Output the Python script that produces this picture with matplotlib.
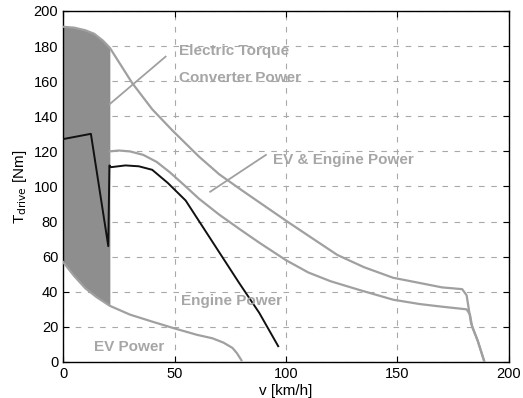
import numpy as np
import matplotlib
matplotlib.use("Agg")
import matplotlib.pyplot as plt

plt.rcParams['font.family'] = ['Liberation Sans', 'DejaVu Sans']

# Electric torque / converter power limit
v_torque = [0, 5, 10, 14, 18, 21, 25, 31, 40, 49, 61, 70, 80, 88, 100, 110, 123,
            135, 148, 160, 170, 179, 181, 183, 186, 189]
T_torque = [191, 190.5, 189, 187, 183, 179, 171, 159, 144, 132, 117, 107, 98, 91, 80.5,
            72, 61, 54, 48, 45, 42.5, 41.5, 38, 22, 12, 0]

# EV power limit
v_ev = [0, 5, 10, 15, 21, 30, 40, 49, 60, 67, 72, 76, 78, 80]
T_ev = [57, 49, 42, 37, 32, 27, 23, 19.5, 15.5, 13.5, 11, 8, 5, 1]

# Engine power limit
v_engine = [21, 25, 30, 36, 42, 48, 55, 61, 70, 80, 88, 100, 110, 120, 133, 148,
            160, 170, 181, 182.5, 183.5, 186, 189]
T_engine = [120, 120.5, 120, 118, 114, 108, 100, 93, 84, 75, 68, 58, 51, 46, 41,
            35.5, 33, 31.5, 30, 27, 20, 12, 0]

# EV & engine combined drive torque
v_drive = [0, 12.5, 20.3, 20.8, 21.5, 28, 34, 40, 47, 55, 79, 88, 96.5]
T_drive = [127, 130, 66, 112, 111, 112, 111.5, 109.5, 102, 92, 45, 28, 9]

# Region boundary (speed up to the converter limit)
v_region_max = 21

label_color = '#a6a6a6'
line_gray = '#a0a0a0'

fig = plt.figure(figsize=(5.23, 3.98), dpi=100)
ax = fig.add_axes([0.1205, 0.0905, 0.8527, 0.8819])

# shaded operating region of the electric machine
vr = np.linspace(0, v_region_max, 60)
upper = np.interp(vr, v_torque, T_torque)
lower = np.interp(vr, v_ev, T_ev)
ax.fill_between(vr, lower, upper, color='#8e8e8e', lw=0, zorder=2)

ax.plot(v_torque, T_torque, color=line_gray, lw=1.6, zorder=3)
ax.plot(v_ev, T_ev, color=line_gray, lw=1.6, zorder=3)
ax.plot(v_engine, T_engine, color=line_gray, lw=1.6, zorder=3)
ax.plot(v_drive, T_drive, color='#111111', lw=1.4, zorder=4)

# pointer lines for the labels
ax.plot([21, 46], [147, 174], color=line_gray, lw=1.3, zorder=3)
ax.plot([66, 91], [97, 118], color=line_gray, lw=1.3, zorder=3)

txt_kw = dict(color=label_color, fontsize=11, fontweight='bold',
              va='center', ha='left', zorder=5)
ax.text(52, 177, 'Electric Torque', **txt_kw)
ax.text(52, 162, 'Converter Power', **txt_kw)
ax.text(94, 115, 'EV & Engine Power', **txt_kw)
ax.text(53, 35, 'Engine Power', **txt_kw)
ax.text(14, 8.5, 'EV Power', **txt_kw)

ax.set_xlim(0, 200)
ax.set_ylim(0, 200)
ax.set_xticks(np.arange(0, 201, 50))
ax.set_yticks(np.arange(0, 201, 20))
ax.tick_params(direction='in', top=True, right=True, labelsize=10.5, length=4,
               colors='black')
ax.grid(True, color='#a8a8a8', linestyle=(0, (5, 6)), linewidth=0.8)
ax.set_axisbelow(True)
for s in ax.spines.values():
    s.set_color('black')
    s.set_linewidth(1.0)

ax.set_xlabel('v [km/h]', fontsize=11, labelpad=2)
ax.set_ylabel(r'T$_{\mathrm{drive}}$ [Nm]', fontsize=11, labelpad=3)

fig.savefig('out.png', dpi=100)
